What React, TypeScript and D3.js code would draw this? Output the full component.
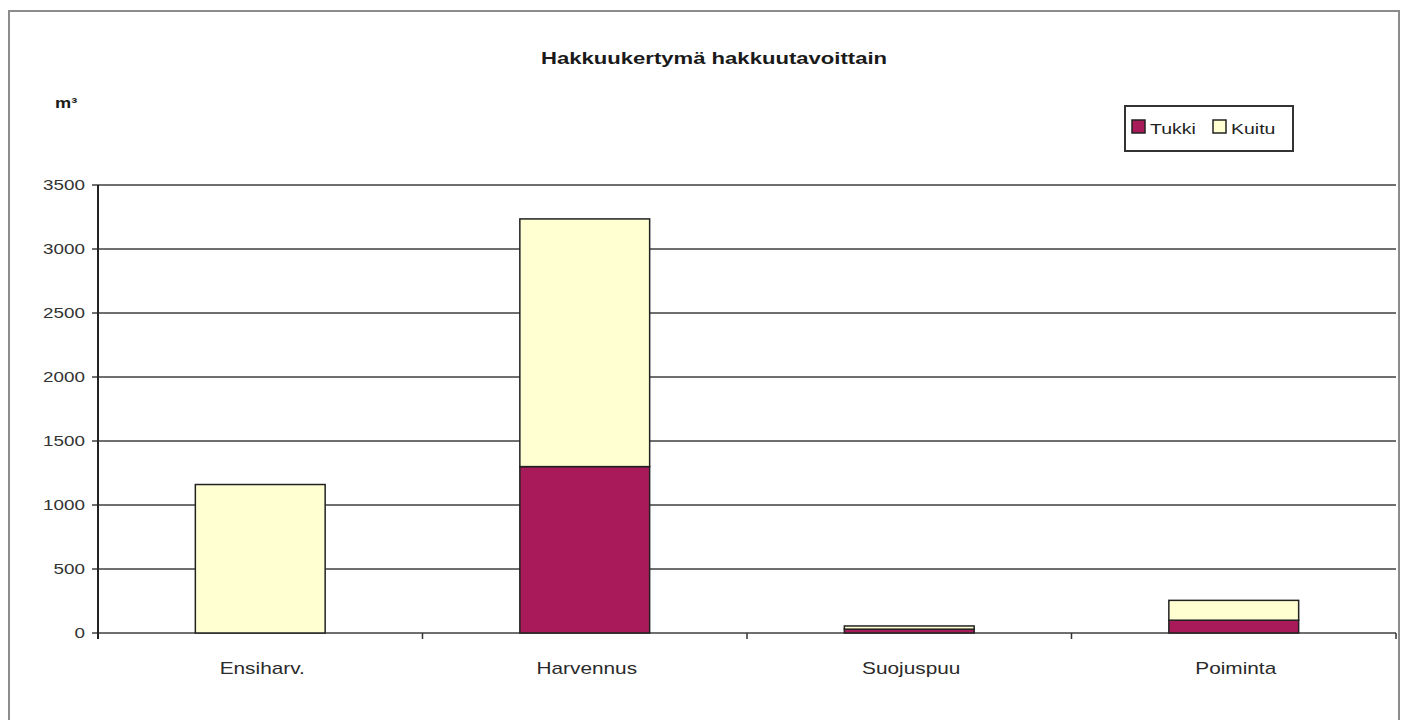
import React from "react";
import * as d3 from "d3";

const categories = ["Ensiharv.", "Harvennus", "Suojuspuu", "Poiminta"];
const tukki = [0, 1300, 30, 100];
const kuitu = [1160, 1935, 25, 155];
const yTicks = [0, 500, 1000, 1500, 2000, 2500, 3000, 3500];
const seriesNames = ["Tukki", "Kuitu"];
const title = "Hakkuukertymä hakkuutavoittain";
const yUnit = "m³";

const W = 1409;
const H = 720;
const colors = { Tukki: "#a81a5a", Kuitu: "#ffffd2" };
const SX = 1.3;

function T({ x, y, anchor = "start", size = 15.5, weight = "normal", fill = "#2a2a2a", children }: any) {
  return (
    <text
      transform={`translate(${x},${y}) scale(${SX},1)`}
      textAnchor={anchor}
      fontFamily="'Liberation Sans', Arial, sans-serif"
      fontSize={size}
      fontWeight={weight}
      fill={fill}
    >
      {children}
    </text>
  );
}

export default function App() {
  const left = 98, right = 1396, top = 185, bottom = 633;
  const y = d3.scaleLinear().domain([0, 3500]).range([bottom, top]);
  const x = d3.scaleBand<string>().domain(categories).range([left, right]).paddingInner(0.6).paddingOuter(0.3);
  const step = x.step();
  const rows = categories.map((c, i) => ({ cat: c, Tukki: tukki[i], Kuitu: kuitu[i] }));
  const stacked = d3.stack<any>().keys(seriesNames)(rows);

  return (
    <svg width={W} height={H} style={{ position: "absolute", left: 0, top: 0, background: "#fff" }}>
      <rect x={0} y={0} width={W} height={H} fill="#fff" />
      <rect x={9} y={11} width={1390} height={730} fill="none" stroke="#8c8c8c" strokeWidth={2} />
      <T x={714} y={64} anchor="middle" size={17} weight="bold" fill="#1a1a1a">{title}</T>
      <T x={55} y={108} size={14} weight="bold" fill="#1a1a1a">{yUnit}</T>

      {/* gridlines */}
      {yTicks.map((t) => (
        <g key={t}>
          <line x1={92} x2={right} y1={y(t)} y2={y(t)} stroke="#3f3f3f" strokeWidth={1.6} />
          <T x={85} y={y(t) + 5} anchor="end" size={14.5} fill="#333">{t}</T>
        </g>
      ))}
      {/* y axis */}
      <line x1={left} x2={left} y1={top} y2={bottom + 6} stroke="#222" strokeWidth={2} />
      {/* x ticks */}
      {categories.map((c, i) => {
        const bx = left + step * (i + 1);
        return <line key={c} x1={bx} x2={bx} y1={bottom} y2={bottom + 6} stroke="#333" strokeWidth={1.5} />;
      })}

      {/* bars */}
      {stacked.map((s) => (
        <g key={s.key}>
          {s.map((d, i) =>
            d[1] - d[0] > 0 ? (
              <rect
                key={i}
                x={x(categories[i])}
                y={y(d[1])}
                width={x.bandwidth()}
                height={y(d[0]) - y(d[1])}
                fill={(colors as any)[s.key]}
                stroke="#222"
                strokeWidth={1.5}
              />
            ) : null
          )}
        </g>
      ))}

      {/* category labels */}
      {categories.map((c) => (
        <T key={c} x={(x(c) as number) + x.bandwidth() / 2 + 2} y={674} anchor="middle" size={16} fill="#2a2a2a">{c}</T>
      ))}

      {/* legend */}
      <rect x={1125} y={106} width={168} height={45} fill="#fff" stroke="#333" strokeWidth={2} />
      {seriesNames.map((n, i) => {
        const lx = i === 0 ? 1132 : 1213;
        return (
          <g key={n}>
            <rect x={lx} y={120} width={13} height={13} fill={(colors as any)[n]} stroke="#222" strokeWidth={1.5} />
            <T x={lx + 18} y={134} size={15} fill="#222">{n}</T>
          </g>
        );
      })}
    </svg>
  );
}
